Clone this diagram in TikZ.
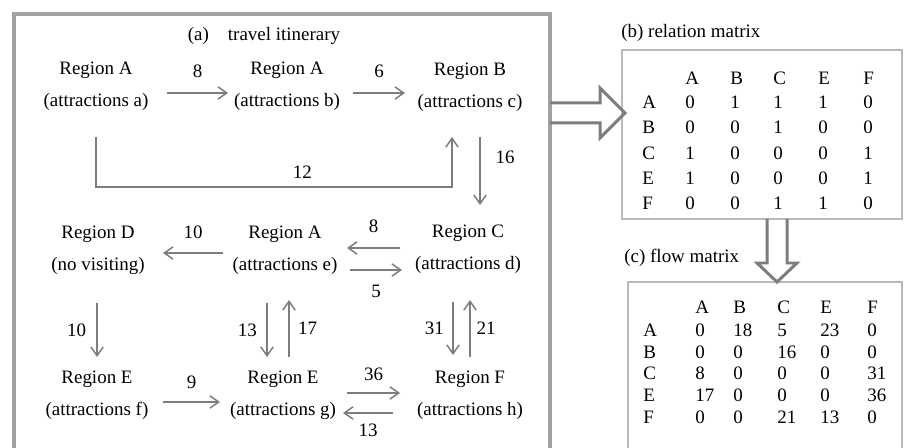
\documentclass[tikz,border=0pt]{standalone}
\usepackage{fontspec}
\setmainfont{Liberation Serif}
\usetikzlibrary{arrows.meta}
\definecolor{framegray}{RGB}{162,162,162}
\definecolor{boxgray}{RGB}{185,185,185}
\definecolor{arrowgray}{RGB}{125,125,125}
\tikzstyle{region}=[align=center,inner sep=0pt,font=\fontsize{10.8}{18}\selectfont]
\tikzstyle{trip}=[draw=arrowgray,line width=0.85pt,-{Straight Barb[length=5pt,width=7pt]}]
\tikzstyle{cell}=[anchor=west,inner sep=0pt]
\tikzstyle{hollow}=[draw=arrowgray,line width=1.7pt,line join=miter]

\begin{document}
\begin{tikzpicture}[x=0.02cm,y=-0.02cm,font=\fontsize{10.8}{13}\selectfont]
    \useasboundingbox (0,0) rectangle (906,448);
    \clip (0,0) rectangle (906,448);

    % (a) travel itinerary
    \draw[framegray,line width=2.3pt] (14,470) -- (14,14) -- (550,14) -- (550,470);
    \node (title) at (264,36) {(a)\quad{}travel itinerary};

    \node[region] (ra) at (96,86)   {Region A\\(attractions a)};
    \node[region] (rb) at (287,86)  {Region A\\(attractions b)};
    \node[region] (rc) at (470,87)  {Region B\\(attractions c)};
    \node[region] (nov) at (98,250) {Region D\\(no visiting)};
    \node[region] (re) at (285,250) {Region A\\(attractions e)};
    \node[region] (rd) at (468,249) {Region C\\(attractions d)};
    \node[region] (rf) at (97,395)  {Region E\\(attractions f)};
    \node[region] (rg) at (283,395) {Region E\\(attractions g)};
    \node[region] (rh) at (470,395) {Region F\\(attractions h)};

    \foreach \from/\fx/\fy/\to/\tx/\ty/\lab/\side/\gap in {
        ra/71/7/rb/-59/7/8/above/5pt,
        rb/66/7/rc/-65/6/6/above/5pt,
        re/-62/3/nov/65/3/10/above/4.5pt,
        rd/-68/-1/re/62/-2/8/above/5pt,
        re/65/20/rd/-66/21/5/below/5pt,
        nov/-1/53/rf/0/-38/10/left/2.5pt,
        re/-18/53/rg/-16/-38/13/left/2pt,
        rg/6/-38/re/4/50/17/right/1.5pt,
        rd/-15/53/rh/-17/-40/31/left/1.5pt,
        rh/0/-38/rd/2/51/21/right/0pt,
        rf/66/7/rg/-63/7/9/above/4pt,
        rg/64/-2/rh/-70/-2/36/above/3.5pt,
        rh/-77/18/rg/60/18/13/below/2.5pt}
    \draw[trip] ([shift={(\fx,\fy)}]\from.center) -- node[\side=\gap] {\lab} ([shift={(\tx,\ty)}]\to.center);

    \draw[trip] ([shift={(0,51)}]ra.center) -- ++(0,50) -| node[pos=0.29,above=1pt] {12} ([shift={(-18,50)}]rc.center);
    \draw[trip] ([shift={(10,50)}]rc.center) -- node[pos=0.3,right=5.2pt] {16} ([shift={(12,-44)}]rd.center);

    % (b) relation matrix
    \node[cell] (reltitle) at (621,33) {(b) relation matrix};
    \draw[boxgray,line width=1.4pt] (622,50) rectangle (902,219);
    \foreach \c [count=\k] in {A,B,C,E,F} {
        \pgfmathsetmacro\cx{{685,730,773,818,863}[\k-1]}
        \node[cell] (relh\c) at (\cx,78) {\c};
    }
    \foreach \r/\y/\vals in {A/102/{0,1,1,1,0},B/127/{0,0,1,0,0},C/153/{1,0,0,0,1},E/178/{1,0,0,0,1},F/203/{0,0,1,1,0}} {
        \node[cell] (rel\r) at (642,\y) {\r};
        \foreach \v [count=\k] in \vals {
            \pgfmathsetmacro\cx{{685,730,773,818,863}[\k-1]}
            \node[cell] (rel\r\k) at (\cx,\y) {\v};
        }
    }

    % (c) flow matrix
    \node[cell] (flowtitle) at (624,258) {(c) flow matrix};
    \draw[boxgray,line width=1.4pt] (628,282) rectangle (902,470);
    \foreach \c [count=\k] in {A,B,C,E,F} {
        \pgfmathsetmacro\cx{{695,733,777,820,867}[\k-1]}
        \node[cell] (flowh\c) at (\cx,307) {\c};
    }
    \foreach \r/\y/\vals in {A/330/{0,18,5,23,0},B/352/{0,0,16,0,0},C/373/{8,0,0,0,31},E/395/{17,0,0,0,36},F/417/{0,0,21,13,0}} {
        \node[cell] (flow\r) at (643,\y) {\r};
        \foreach \v [count=\k] in \vals {
            \pgfmathsetmacro\cx{{695,733,777,820,867}[\k-1]}
            \node[cell] (flow\r\k) at (\cx,\y) {\v};
        }
    }

    % block arrows between panels
    \draw[hollow] (550,103) -- (600,103) -- (600,88) -- (625,113) -- (600,138) -- (600,123) -- (550,123);
    \draw[hollow] (767,219) -- (767,263) -- (757,263) -- (777,282) -- (797,263) -- (787,263) -- (787,219);
\end{tikzpicture}
\end{document}
